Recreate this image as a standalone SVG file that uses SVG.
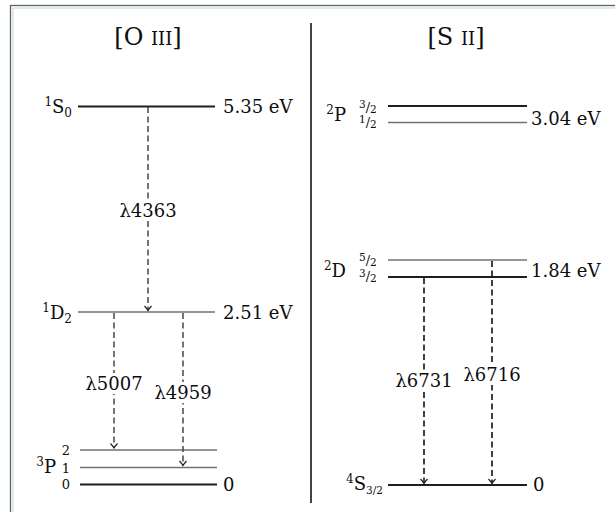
<svg xmlns="http://www.w3.org/2000/svg" width="615" height="512" viewBox="0 0 615 512">
<style>
text{font-family:"DejaVu Serif","Liberation Serif",serif;fill:#0d0d0d;font-size:18px}
.title{font-size:24px}
.sc{font-size:18px}
.sm{font-size:12px}
.pn{font-size:13px}
.fr{font-size:10.5px}
.lvd{stroke:#1e1e1e;stroke-width:2}
.lvl{stroke:#6b7378;stroke-width:1.6}
.tr{stroke:#3a3a3a;stroke-width:1.4;stroke-dasharray:6 3.5;fill:none}
.trd{stroke:#111;stroke-width:1.6;stroke-dasharray:6 3.5;fill:none}
.bg{fill:#fff}
.mid{text-anchor:middle}
.end{text-anchor:end}
</style>
<defs>
<marker id="ah" markerUnits="userSpaceOnUse" markerWidth="10" markerHeight="10" viewBox="-6 -5 8 10" refX="0" refY="0" orient="auto">
<path d="M-4.5,-3.5 Q-1.5,-0.8 0,0 Q-1.5,0.8 -4.5,3.5" fill="none" stroke="#222" stroke-width="1.2"/>
</marker>
</defs>
<rect width="615" height="512" fill="#fff"/>
<g id="frame">
<rect x="10.5" y="5.5" width="640" height="540" fill="none" stroke="#56656b" stroke-width="1.3"/>
<rect x="13" y="8" width="640" height="540" fill="none" stroke="#c9d2d6" stroke-width="1"/>
<line x1="311" y1="23" x2="311" y2="503" stroke="#151515" stroke-width="1.6"/>
</g>
<g id="title-oiii"><text class="title mid" x="148" y="45">[O <tspan class="sc">III</tspan>]</text></g>
<g id="title-sii"><text class="title mid" x="456" y="45">[S <tspan class="sc">II</tspan>]</text></g>

<g id="o3-1S0">
<line class="lvd" x1="78" y1="106.5" x2="215" y2="106.5"/>
<text class="end" x="72" y="113"><tspan class="sm" dy="-7">1</tspan><tspan dy="7">S</tspan><tspan class="sm" dy="4">0</tspan></text>
<text x="223" y="113">5.35 eV</text>
</g>
<g id="o3-1D2">
<line class="lvl" x1="78" y1="312" x2="215" y2="312"/>
<text class="end" x="72" y="319"><tspan class="sm" dy="-7">1</tspan><tspan dy="7">D</tspan><tspan class="sm" dy="4">2</tspan></text>
<text x="223" y="319">2.51 eV</text>
</g>
<g id="o3-3P">
<line class="lvl" x1="80" y1="450" x2="217" y2="450"/>
<line class="lvl" x1="80" y1="467.5" x2="217" y2="467.5"/>
<line class="lvd" x1="80" y1="484.5" x2="217" y2="484.5"/>
<text class="end" x="56" y="473"><tspan class="sm" dy="-7">3</tspan><tspan dy="7">P</tspan></text>
<text class="pn mid" x="66" y="455">2</text>
<text class="pn mid" x="66" y="472.5">1</text>
<text class="pn mid" x="66" y="489">0</text>
<text x="223" y="491">0</text>
</g>

<g id="s2-2P">
<line class="lvd" x1="388" y1="106" x2="527" y2="106"/>
<line class="lvl" x1="388" y1="122.5" x2="527" y2="122.5"/>
<text class="end" x="346" y="121"><tspan class="sm" dy="-7">2</tspan><tspan dy="7">P</tspan></text>
<text class="fr" x="359" y="111"><tspan dy="-3">3</tspan><tspan font-size="13" dy="4">/</tspan><tspan dy="1">2</tspan></text>
<text class="fr" x="359" y="126"><tspan dy="-3">1</tspan><tspan font-size="13" dy="4">/</tspan><tspan dy="1">2</tspan></text>
<text x="531" y="125">3.04 eV</text>
</g>
<g id="s2-2D">
<line class="lvl" x1="388" y1="260" x2="527" y2="260"/>
<line class="lvd" x1="388" y1="277" x2="527" y2="277"/>
<text class="end" x="346" y="277"><tspan class="sm" dy="-7">2</tspan><tspan dy="7">D</tspan></text>
<text class="fr" x="359" y="264"><tspan dy="-3">5</tspan><tspan font-size="13" dy="4">/</tspan><tspan dy="1">2</tspan></text>
<text class="fr" x="359" y="280"><tspan dy="-3">3</tspan><tspan font-size="13" dy="4">/</tspan><tspan dy="1">2</tspan></text>
<text x="531" y="277">1.84 eV</text>
</g>
<g id="s2-4S">
<line class="lvd" x1="388" y1="485" x2="527" y2="485"/>
<text class="end" x="383" y="490"><tspan class="sm" dy="-7">4</tspan><tspan dy="7">S</tspan><tspan class="fr" dy="4">3/2</tspan></text>
<text x="533" y="491">0</text>
</g>

<g id="connectors">
<line class="tr" x1="148" y1="107" x2="148" y2="310.5" marker-end="url(#ah)"/>
<line class="tr" x1="114" y1="313" x2="114" y2="448" marker-end="url(#ah)"/>
<line class="tr" x1="183" y1="313" x2="183" y2="465.5" marker-end="url(#ah)"/>
<line class="trd" x1="424" y1="278" x2="424" y2="483.5" marker-end="url(#ah)"/>
<line class="trd" x1="492" y1="261" x2="492" y2="483.5" marker-end="url(#ah)"/>
<g id="labels">
<rect class="bg" x="117" y="200" width="62" height="21"/>
<text class="mid" x="148" y="217">λ4363</text>
<rect class="bg" x="83" y="373" width="62" height="21"/>
<text class="mid" x="114" y="390">λ5007</text>
<rect class="bg" x="152" y="382" width="62" height="21"/>
<text class="mid" x="183" y="399">λ4959</text>
<rect class="bg" x="393" y="370" width="62" height="21"/>
<text class="mid" x="424" y="387">λ6731</text>
<rect class="bg" x="461" y="364" width="62" height="21"/>
<text class="mid" x="492" y="381">λ6716</text>
</g>
</g>
</svg>
